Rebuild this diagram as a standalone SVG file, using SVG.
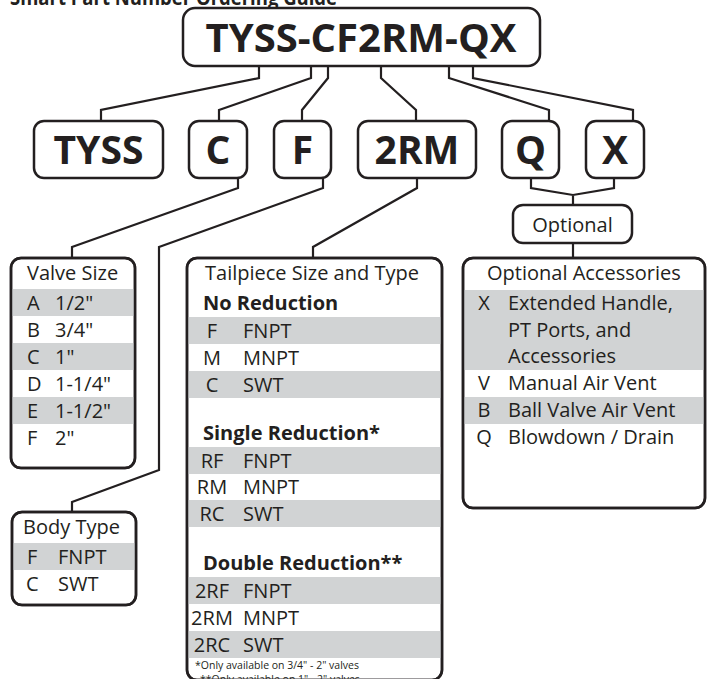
<svg xmlns="http://www.w3.org/2000/svg" width="707" height="679" viewBox="0 0 707 679">
<style>
.box{fill:#fff;stroke:#231f20;stroke-width:2.5}
.outline{fill:none;stroke:#231f20;stroke-width:2.5}
.conn{fill:none;stroke:#231f20;stroke-width:2.2;stroke-linejoin:miter}
.row{fill:#d1d3d4}
text{font-family:"Open Sans","Liberation Sans",sans-serif;fill:#231f20}
.big{font-size:39px;font-weight:700;text-anchor:middle}
.t{font-size:20px}
.h{font-size:20px;font-weight:700}
.c{font-size:20px;text-anchor:middle}
.fn{font-size:10.5px}
</style>
<text x="10" y="5" font-size="22" font-weight="700" textLength="327" lengthAdjust="spacingAndGlyphs">Smart Part Number Ordering Guide</text>

<g id="connectors">
<path class="conn" d="M259 66V78L101 110V121"/>
<path class="conn" d="M311 66V78L219 110V121"/>
<path class="conn" d="M328 66V78L302 110V121"/>
<path class="conn" d="M381 66V78L416 110V121"/>
<path class="conn" d="M449 66V78L549 110V121"/>
<path class="conn" d="M473 66V78L633 110V121"/>
<path class="conn" d="M238 178V188L72 247V258"/>
<path class="conn" d="M323 178V188L159 247V470L72 502V512"/>
<path class="conn" d="M417 178V188L313 247V258"/>
<path class="conn" d="M531 178V188L573 195L614 188V178M573 195V205"/>
<path class="conn" d="M573 243V258"/>
</g>

<g id="main">
<rect class="box" x="183" y="8" width="357" height="58" rx="12"/>
<text class="big" x="361" y="52" textLength="311" lengthAdjust="spacingAndGlyphs">TYSS-CF2RM-QX</text>
</g>

<g id="n-tyss"><rect class="box" x="34" y="121" width="129" height="57" rx="10"/><text class="big" x="98.5" y="164" textLength="90" lengthAdjust="spacingAndGlyphs">TYSS</text></g>
<g id="n-c"><rect class="box" x="189" y="121" width="58" height="57" rx="10"/><text class="big" x="218" y="164">C</text></g>
<g id="n-f"><rect class="box" x="274" y="121" width="57" height="57" rx="10"/><text class="big" x="302.5" y="164">F</text></g>
<g id="n-2rm"><rect class="box" x="358" y="121" width="118" height="57" rx="10"/><text class="big" x="417" y="164">2RM</text></g>
<g id="n-q"><rect class="box" x="502" y="121" width="57" height="57" rx="10"/><text class="big" x="530.5" y="164">Q</text></g>
<g id="n-x"><rect class="box" x="586" y="121" width="58" height="57" rx="10"/><text class="big" x="615" y="164">X</text></g>

<g id="n-optional"><rect class="box" x="513" y="205" width="119" height="38" rx="10"/><text class="t" x="572.5" y="232" text-anchor="middle">Optional</text></g>

<g id="valve-size">
<rect class="box" x="11" y="258" width="124" height="210" rx="10"/>
<rect class="row" x="12" y="289" width="122" height="27"/>
<rect class="row" x="12" y="343" width="122" height="27"/>
<rect class="row" x="12" y="397" width="122" height="27"/>
<rect class="outline" x="11" y="258" width="124" height="210" rx="10"/>
<text class="t" x="27" y="280">Valve Size</text>
<text class="t" x="27" y="310">A</text><text class="t" x="55" y="310">1/2"</text>
<text class="t" x="27" y="337">B</text><text class="t" x="55" y="337">3/4"</text>
<text class="t" x="27" y="364">C</text><text class="t" x="55" y="364">1"</text>
<text class="t" x="27" y="391">D</text><text class="t" x="55" y="391">1-1/4"</text>
<text class="t" x="27" y="418">E</text><text class="t" x="55" y="418">1-1/2"</text>
<text class="t" x="27" y="445">F</text><text class="t" x="55" y="445">2"</text>
</g>

<g id="body-type">
<rect class="box" x="12" y="512" width="124" height="93" rx="10"/>
<rect class="row" x="13" y="543" width="122" height="27"/>
<rect class="outline" x="12" y="512" width="124" height="93" rx="10"/>
<text class="t" x="23" y="534">Body Type</text>
<text class="t" x="27" y="564">F</text><text class="t" x="58" y="564">FNPT</text>
<text class="t" x="26" y="591">C</text><text class="t" x="58" y="591">SWT</text>
</g>

<g id="tailpiece">
<rect class="box" x="187" y="258" width="255" height="422" rx="10"/>
<rect class="row" x="188" y="317" width="253" height="27"/>
<rect class="row" x="188" y="371" width="253" height="27"/>
<rect class="row" x="188" y="447" width="253" height="27"/>
<rect class="row" x="188" y="500" width="253" height="27"/>
<rect class="row" x="188" y="577" width="253" height="27"/>
<rect class="row" x="188" y="631" width="253" height="27"/>
<rect class="outline" x="187" y="258" width="255" height="422" rx="10"/>
<text class="t" x="205" y="280">Tailpiece Size and Type</text>
<text class="h" x="203" y="310">No Reduction</text>
<text class="c" x="212" y="338">F</text><text class="t" x="243" y="338">FNPT</text>
<text class="c" x="212" y="365">M</text><text class="t" x="243" y="365">MNPT</text>
<text class="c" x="212" y="392">C</text><text class="t" x="243" y="392">SWT</text>
<text class="h" x="203" y="440">Single Reduction*</text>
<text class="c" x="212" y="468">RF</text><text class="t" x="243" y="468">FNPT</text>
<text class="c" x="212" y="494">RM</text><text class="t" x="243" y="494">MNPT</text>
<text class="c" x="212" y="521">RC</text><text class="t" x="243" y="521">SWT</text>
<text class="h" x="203" y="570">Double Reduction**</text>
<text class="c" x="212" y="598">2RF</text><text class="t" x="243" y="598">FNPT</text>
<text class="c" x="212" y="625">2RM</text><text class="t" x="243" y="625">MNPT</text>
<text class="c" x="212" y="652">2RC</text><text class="t" x="243" y="652">SWT</text>
<text class="fn" x="195" y="669">*Only available on 3/4" - 2" valves</text>
<text class="fn" x="200" y="683">**Only available on 1" - 2" valves</text>
</g>

<g id="accessories">
<rect class="box" x="463" y="258" width="242" height="250" rx="10"/>
<rect class="row" x="464" y="290" width="240" height="80"/>
<rect class="row" x="464" y="397" width="240" height="27"/>
<rect class="outline" x="463" y="258" width="242" height="250" rx="10"/>
<text class="t" x="487" y="280">Optional Accessories</text>
<text class="c" x="484" y="310">X</text>
<text class="t" x="508" y="310">Extended Handle,</text>
<text class="t" x="508" y="337">PT Ports, and</text>
<text class="t" x="508" y="363">Accessories</text>
<text class="c" x="484" y="390">V</text><text class="t" x="508" y="390">Manual Air Vent</text>
<text class="c" x="484" y="417">B</text><text class="t" x="508" y="417">Ball Valve Air Vent</text>
<text class="c" x="484" y="444">Q</text><text class="t" x="508" y="444">Blowdown / Drain</text>
</g>
</svg>
